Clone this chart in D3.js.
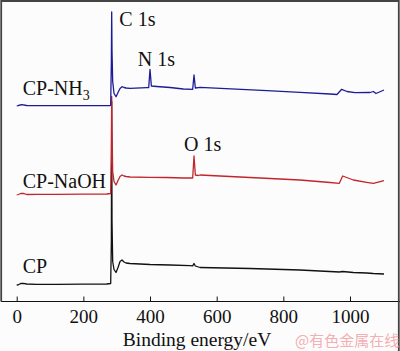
<!DOCTYPE html>
<html>
<head>
<meta charset="utf-8">
<script src="https://cdn.jsdelivr.net/npm/d3@7"></script>
<style>
html,body{margin:0;padding:0;background:#fcfcfc;}
svg{display:block;}
</style>
</head>
<body>
<svg id="chart" width="400" height="351"></svg>
<script>
// Binding energy (eV) and intensity (arbitrary units, offset-stacked)
const cpEnergy = [0,5,12,20,30,60,120,200,270,282,284,285,286,288,292,298,304,310,316,322,328,340,400,460,520,528,532,536,550,700,850,968,978,1010,1050,1070,1102];
const cpIntensity = [16.5,16.7,18,18.2,17.5,17.2,17.2,17.3,17.5,18,60,200,80,40,32,29,34,40,41.5,39.5,38.5,38,37,36.5,35.8,35.6,38,35.5,34,33,31.5,29.5,30,29,28.5,28,27.5];

const naohEnergy = [0,5,12,20,30,60,120,200,270,282,284,285,286,288,292,298,304,310,316,322,328,340,400,450,500,528,532,536,545,550,700,850,940,968,978,1010,1050,1070,1102];
const naohIntensity = [106.5,107,108,108.2,107,107.2,107.2,107.3,107.5,108,150,205,170,130,120,116.5,121,125,126.5,125.5,125,124.5,124.2,124,123.5,123.5,145.5,126.5,126,126.5,124,121.5,119,118.2,125.5,121.5,119.2,118.2,120.8];

const nh3Energy = [0,5,15,30,100,200,280,282,284,285,286,288,292,298,304,310,316,322,328,340,390,396,400,404,420,460,500,528,532,536,550,751,850,940,961,975,991,1015,1060,1070,1078,1102];
const nh3Intensity = [195.5,196,196.8,196,195.8,195.8,195.8,196.5,240,289.5,250,220,208,204.8,209,213,214.8,214,213.5,213.2,213.8,213.8,232.2,215.5,215,214,212.5,212.2,226.5,213.5,214.2,210.8,209.2,207.5,207,212.2,210,208.8,209,210,208,211.5];

const xTicks = [0,200,400,600,800,1000];
const seriesNames = ["CP","CP-NaOH","CP-NH3"];
const seriesColors = ["#111111","#c0262c","#1c1c96"];
const peakLabels = ["C 1s","N 1s","O 1s"];
const peakLabelIntensity = [275.5,235.5,150.5];
const seriesLabelIntensity = [28.5,113.5,206.5];
const xTitle = "Binding energy/eV";
const watermark = "@有色金属在线";

const svg = d3.select("#chart");
const W = 400, H = 351;
const x = d3.scaleLinear().domain([0,1000]).range([16.7,350]);
const y = d3.scaleLinear().domain([0,300]).range([301.5,1.5]);
const font = "'Liberation Serif','Times New Roman',serif";

svg.append("rect").attr("width",W).attr("height",H).attr("fill","#fcfcfc");

const data = [
  d3.zip(cpEnergy,cpIntensity),
  d3.zip(naohEnergy,naohIntensity),
  d3.zip(nh3Energy,nh3Intensity)
];
const line = d3.line().x(d=>x(d[0])).y(d=>y(d[1]));
data.forEach((s,i)=>{
  svg.append("path").datum(s).attr("d",line)
    .attr("fill","none").attr("stroke",seriesColors[i])
    .attr("stroke-width",1.3).attr("stroke-linejoin","round");
});

// x axis
const axis = svg.append("g").attr("transform",`translate(0,${y(0)})`)
  .call(d3.axisBottom(x).tickValues(xTicks).tickSizeInner(-5).tickSizeOuter(0).tickPadding(8).tickFormat(d3.format("d")));
axis.select(".domain").remove();
axis.selectAll(".tick line").attr("stroke","#111").attr("stroke-width",1);
axis.selectAll("text").attr("font-family",font).attr("font-size",19).attr("fill","#111");
svg.append("line").attr("x1",1).attr("x2",W).attr("y1",y(0)).attr("y2",y(0))
  .attr("stroke","#111").attr("stroke-width",1.2);

// frame (left axis + image border)
svg.append("path").attr("d",`M1.2,${y(0)}V1H${W-1.2}V${H}`)
  .attr("fill","none").attr("stroke","#444").attr("stroke-width",1.8);

// peak labels
const peakX = [119.3,137.7,184];
peakLabels.forEach((t,i)=>{
  svg.append("text").attr("x",peakX[i]).attr("y",y(peakLabelIntensity[i]))
    .attr("font-family",font).attr("font-size",20).attr("fill","#111").text(t);
});

// series labels
seriesNames.forEach((t,i)=>{
  const tx = svg.append("text").attr("x",22.7).attr("y",y(seriesLabelIntensity[i]))
    .attr("font-family",font).attr("font-size",20).attr("fill","#111");
  if (t === "CP-NH3") {
    tx.append("tspan").text("CP-NH");
    tx.append("tspan").attr("font-size",14).attr("dy",5).text("3");
  } else tx.text(t);
});

svg.append("text").attr("x",197).attr("y",346).attr("text-anchor","middle")
  .attr("font-family",font).attr("font-size",19.5).attr("fill","#111").text(xTitle);

svg.append("text").attr("x",295).attr("y",346)
  .attr("font-family","'Noto Sans CJK SC',sans-serif").attr("font-size",15)
  .attr("fill","#f2a4aa").attr("fill-opacity",0.9).text(watermark);
</script>
</body>
</html>
